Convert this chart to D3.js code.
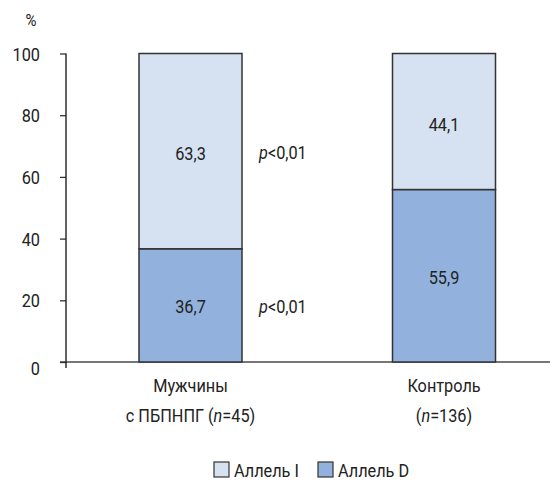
<!DOCTYPE html>
<html>
<head>
<meta charset="utf-8">
<script src="https://cdn.jsdelivr.net/npm/d3@7"></script>
<style>
  body { margin: 0; background: #fff; }
  svg { display: block; }
  text { font-family: "Roboto", "Liberation Sans", sans-serif; fill: #222; }
</style>
</head>
<body>
<svg id="chart" width="550" height="489"></svg>
<script>
// Allele frequencies (%) by group
const groups = ["Мужчины|с ПБПНПГ (n=45)", "Контроль|(n=136)"];
const groupLine1 = ["Мужчины", "Контроль"];
const groupLine2Pre = ["с ПБПНПГ (", "("];
const groupN = ["45", "136"];
const alleleD = [36.7, 55.9];
const alleleI = [63.3, 44.1];
const pLabels = ["p<0,01", "p<0,01"];
const yTicks = [0, 20, 40, 60, 80, 100];
const legendLabels = ["Аллель I", "Аллель D"];
const colors = { I: "#d6e1f1", D: "#92b2dd" };

const FS = 18.5;   // font size
const SX = 0.88;   // horizontal squeeze for a condensed look

const svg = d3.select("#chart");

const y = d3.scaleLinear().domain([0, 100]).range([362, 53.5]);
const x = d3.scalePoint().domain(groups).range([190.5, 444]);
const barW = 103;
const axisX = 66;

function label(parent, px, py, anchor) {
  return parent.append("text")
    .attr("transform", `translate(${px},${py}) scale(${SX},1)`)
    .attr("text-anchor", anchor || "start")
    .style("font-size", FS + "px");
}

// baseline
svg.append("line")
  .attr("x1", 60).attr("x2", 550)
  .attr("y1", y(0)).attr("y2", y(0))
  .attr("stroke", "#777").attr("stroke-width", 2);

// y axis
const yAxis = d3.axisLeft(y).tickValues(yTicks).tickSize(6).tickSizeOuter(0);
const ax = svg.append("g").attr("transform", `translate(${axisX},0)`).call(yAxis);
ax.select(".domain").remove();
ax.selectAll(".tick line").attr("stroke", "#333").attr("stroke-width", 1.3);
ax.selectAll(".tick text")
  .style("font-size", FS + "px")
  .attr("fill", "#222")
  .attr("x", -26 / SX)
  .attr("dy", d => d === 0 ? "0.65em" : "0.36em")
  .attr("transform", `scale(${SX},1)`);
svg.append("line")
  .attr("x1", axisX).attr("x2", axisX)
  .attr("y1", y(100)).attr("y2", y(0) + 6)
  .attr("stroke", "#222").attr("stroke-width", 1.4);

label(svg, 31, 26, "middle").style("font-size", "17px").text("%");

// stacked bars
const stacks = groups.map((g, i) => ({ g, i, D: alleleD[i], I: alleleI[i] }));
const bars = svg.append("g");
stacks.forEach(s => {
  const x0 = x(s.g) - barW / 2;
  bars.append("rect")
    .attr("x", x0).attr("width", barW)
    .attr("y", y(s.D)).attr("height", y(0) - y(s.D))
    .attr("fill", colors.D).attr("stroke", "#333").attr("stroke-width", 1.5);
  bars.append("rect")
    .attr("x", x0).attr("width", barW)
    .attr("y", y(s.D + s.I)).attr("height", y(s.D) - y(s.D + s.I))
    .attr("fill", colors.I).attr("stroke", "#333").attr("stroke-width", 1.5);
  // value labels
  label(bars, x(s.g), (y(0) + y(s.D)) / 2 + 8, "middle")
    .text(String(s.D).replace(".", ","));
  label(bars, x(s.g), (y(s.D) + y(s.D + s.I)) / 2 + 9, "middle")
    .text(String(s.I).replace(".", ","));
});

// significance labels beside first bar
const pX = x(groups[0]) + barW / 2 + 17;
[[alleleD[0] / 2, pLabels[0]], [alleleD[0] + alleleI[0] / 2, pLabels[1]]].forEach(([v, t]) => {
  const tx = label(svg, pX, y(v) + 8);
  tx.append("tspan").style("font-style", "italic").text(t.slice(0, 1));
  tx.append("tspan").text(t.slice(1));
});

// category labels
groups.forEach((g, i) => {
  label(svg, x(g), 392, "middle").text(groupLine1[i]);
  const t = label(svg, x(g), 422, "middle");
  t.append("tspan").text(groupLine2Pre[i]);
  t.append("tspan").style("font-style", "italic").text("n");
  t.append("tspan").text("=" + groupN[i] + ")");
});

// legend
const legendItems = [
  { label: legendLabels[0], color: colors.I, x: 214 },
  { label: legendLabels[1], color: colors.D, x: 318 }
];
legendItems.forEach(it => {
  svg.append("rect").attr("x", it.x).attr("y", 462).attr("width", 15).attr("height", 15)
    .attr("fill", it.color).attr("stroke", "#333").attr("stroke-width", 1.2);
  label(svg, it.x + 20, 477).text(it.label);
});
</script>
</body>
</html>
